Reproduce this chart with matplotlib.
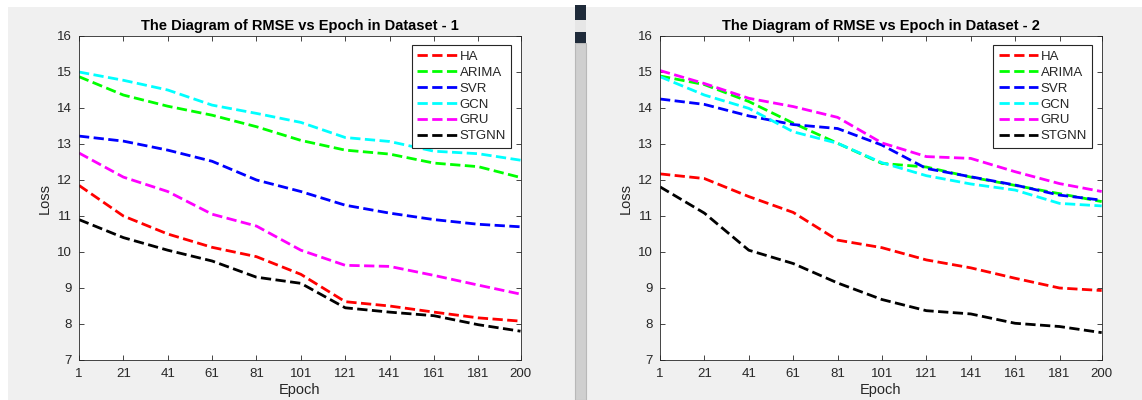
import matplotlib
matplotlib.use("Agg")
import matplotlib.pyplot as plt
from matplotlib.patches import Rectangle

# -----------------------------
# data
# -----------------------------
epochs = [1, 21, 41, 61, 81, 101, 121, 141, 161, 181, 200]
xtick_labels = ["1", "21", "41", "61", "81", "101", "121", "141", "161", "181", "200"]
models = ["HA", "ARIMA", "SVR", "GCN", "GRU", "STGNN"]
colors = ["#ff0000", "#00ff00", "#0000ff", "#00ffff", "#ff00ff", "#000000"]

d1_ha = [11.85, 11.0, 10.5, 10.13, 9.87, 9.38, 8.62, 8.5, 8.33, 8.17, 8.08]
d1_arima = [14.87, 14.36, 14.05, 13.8, 13.48, 13.1, 12.83, 12.72, 12.47, 12.37, 12.07]
d1_svr = [13.22, 13.08, 12.83, 12.52, 12.0, 11.68, 11.3, 11.08, 10.9, 10.77, 10.7]
d1_gcn = [15.0, 14.77, 14.5, 14.08, 13.85, 13.6, 13.18, 13.07, 12.8, 12.73, 12.55]
d1_gru = [12.75, 12.08, 11.68, 11.05, 10.72, 10.05, 9.63, 9.6, 9.35, 9.08, 8.83]
d1_stgnn = [10.9, 10.4, 10.05, 9.75, 9.3, 9.13, 8.45, 8.33, 8.23, 7.98, 7.8]

d2_ha = [12.17, 12.04, 11.54, 11.1, 10.33, 10.12, 9.78, 9.56, 9.27, 9.0, 8.93]
d2_arima = [14.89, 14.65, 14.18, 13.58, 13.02, 12.46, 12.36, 12.08, 11.85, 11.62, 11.4]
d2_svr = [14.25, 14.1, 13.78, 13.54, 13.43, 12.97, 12.32, 12.09, 11.86, 11.58, 11.44]
d2_gcn = [14.87, 14.36, 13.99, 13.34, 13.02, 12.48, 12.12, 11.89, 11.72, 11.35, 11.28]
d2_gru = [15.04, 14.68, 14.27, 14.04, 13.74, 13.03, 12.65, 12.6, 12.23, 11.9, 11.68]
d2_stgnn = [11.81, 11.08, 10.05, 9.68, 9.14, 8.68, 8.37, 8.28, 8.02, 7.93, 7.76]

datasets = [
    ("The Diagram of RMSE vs Epoch in Dataset - 1",
     [d1_ha, d1_arima, d1_svr, d1_gcn, d1_gru, d1_stgnn]),
    ("The Diagram of RMSE vs Epoch in Dataset - 2",
     [d2_ha, d2_arima, d2_svr, d2_gcn, d2_gru, d2_stgnn]),
]

plt.rcParams["font.family"] = ["Liberation Sans", "DejaVu Sans"]

W, H = 1142, 400
fig = plt.figure(figsize=(W / 100, H / 100), dpi=100, facecolor="#f0f0f0")

# screenshot chrome: white strip on top/left, divider between the windows
fig.patches.append(Rectangle((0, 1 - 7 / H), 1, 7 / H, transform=fig.transFigure,
                             facecolor="white", edgecolor="none", zorder=-1))
fig.patches.append(Rectangle((0, 0), 8 / W, 1, transform=fig.transFigure,
                             facecolor="white", edgecolor="none", zorder=-1))
fig.patches.append(Rectangle((575 / W, 0), 11 / W, 1 - 43 / H, transform=fig.transFigure,
                             facecolor="#cfcfcf", edgecolor="#b8b8b8", lw=0.8, zorder=-1))
fig.patches.append(Rectangle((575 / W, 1 - 20 / H), 11 / W, 15 / H, transform=fig.transFigure,
                             facecolor="#1f2b3a", edgecolor="none", zorder=-1))
fig.patches.append(Rectangle((575 / W, 1 - 43 / H), 11 / W, 11 / H, transform=fig.transFigure,
                             facecolor="#1f2b3a", edgecolor="none", zorder=-1))
fig.patches.append(Rectangle((575 / W, 1 - 32 / H), 11 / W, 12 / H, transform=fig.transFigure,
                             facecolor="#e6e6e6", edgecolor="none", zorder=-1))

axes_px = [(79, 441.5), (660, 441.7)]
grey = "#262626"

for (left, width), (title, series) in zip(axes_px, datasets):
    ax = fig.add_axes([left / W, 40 / H, width / W, 324 / H])
    for name, col, vals in zip(models, colors, series):
        ax.plot(epochs, vals, "--", color=col, lw=2, label=name)

    ax.set_xlim(1, 200)
    ax.set_ylim(7, 16)
    ax.set_xticks(epochs)
    ax.set_xticklabels(xtick_labels)
    ax.set_yticks(range(7, 17))
    ax.tick_params(direction="in", length=3.5, width=0.6, colors=grey,
                   labelsize=9.5, top=True, right=True)
    ax.tick_params(axis="x", pad=6)
    ax.tick_params(axis="y", pad=5)
    for sp in ax.spines.values():
        sp.set_color(grey)
        sp.set_linewidth(0.6)

    ax.set_title(title, fontsize=10.5, fontweight="bold", pad=4)
    ax.set_xlabel("Epoch", fontsize=10.5, color=grey, labelpad=2)
    ax.set_ylabel("Loss", fontsize=10.5, color=grey, labelpad=4)

    leg = ax.legend(loc="upper right", fontsize=9.5, handlelength=3.0, labelspacing=0.28,
                    borderaxespad=0.7, handletextpad=0.2, fancybox=False,
                    borderpad=0.4, framealpha=1)
    leg.get_frame().set_edgecolor(grey)
    leg.get_frame().set_linewidth(0.8)
    for t in leg.get_texts():
        t.set_color(grey)

fig.savefig("out.png", dpi=100, facecolor=fig.get_facecolor())
